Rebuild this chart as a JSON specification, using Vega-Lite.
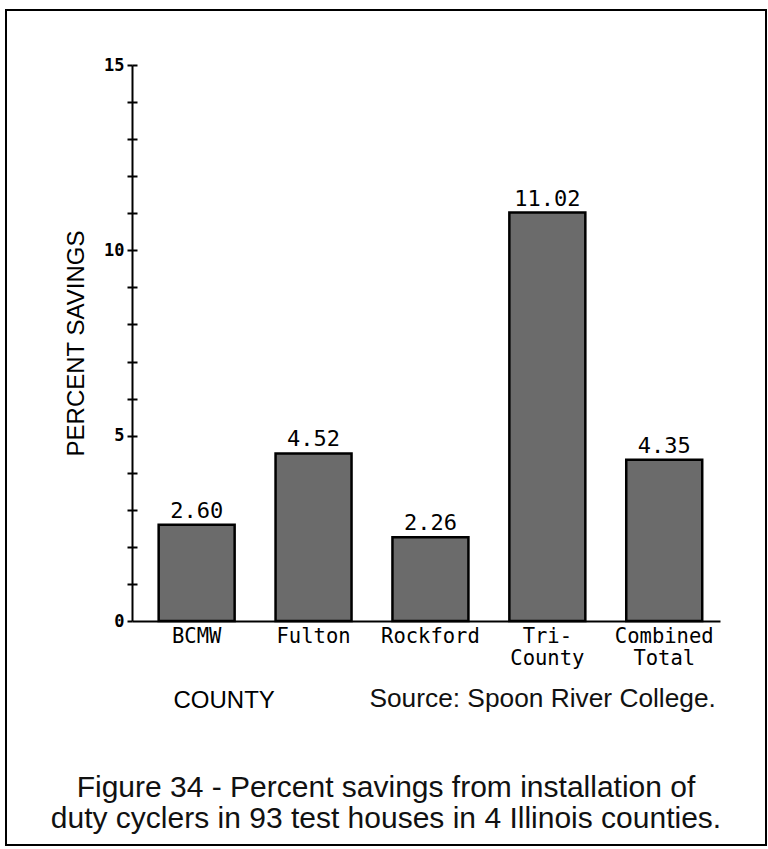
{
  "$schema": "https://vega.github.io/schema/vega-lite/v6.json",
  "autosize": "none",
  "width": 760,
  "height": 835,
  "padding": {"left": 6, "top": 10, "right": 2, "bottom": 4},
  "background": "white",
  "title": {
    "text": ["Figure 34 - Percent savings from installation of", "duty cyclers in 93 test houses in 4 Illinois counties."],
    "orient": "bottom",
    "anchor": "middle",
    "frame": "group",
    "offset": -48,
    "baseline": "alphabetic",
    "font": "Liberation Sans",
    "fontSize": 30,
    "fontWeight": "normal",
    "lineHeight": 31,
    "color": "#111111"
  },
  "config": {
    "view": {"stroke": "black", "strokeWidth": 2, "fill": "white"},
    "font": "DejaVu Sans Mono"
  },
  "data": {
    "values": [
      {"county": "BCMW", "savings": 2.60},
      {"county": "Fulton", "savings": 4.52},
      {"county": "Rockford", "savings": 2.26},
      {"county": "Tri-County", "savings": 11.02},
      {"county": "Combined Total", "savings": 4.35}
    ]
  },
  "layer": [
    {
      "mark": {"type": "bar", "fill": "#6b6b6b", "stroke": "black", "strokeWidth": 2.5},
      "encoding": {
        "x": {
          "field": "county",
          "type": "nominal",
          "sort": null,
          "scale": {"range": [126, 714], "paddingInner": 0.35, "paddingOuter": 0.19, "align": 0.6},
          "axis": {
            "orient": "bottom",
            "offset": -224,
            "domainColor": "black",
            "domainWidth": 2,
            "ticks": false,
            "grid": false,
            "labelAngle": 0,
            "labelFont": "DejaVu Sans Mono",
            "labelFontSize": 20.5,
            "labelColor": "black",
            "labelPadding": 5,
            "labelLineHeight": 22,
            "labelExpr": "datum.label == 'Tri-County' ? ['Tri-', 'County'] : split(datum.label, ' ')",
            "title": "COUNTY",
            "titleFont": "Liberation Sans",
            "titleFontSize": 24,
            "titleFontWeight": "normal",
            "titleColor": "black",
            "titleX": 167,
            "titleY": 86,
            "titleAlign": "left",
            "titleBaseline": "alphabetic"
          }
        },
        "y": {
          "field": "savings",
          "type": "quantitative",
          "scale": {"domain": [0, 15], "range": [611, 55], "nice": false, "zero": true},
          "axis": {
            "orient": "left",
            "offset": -126,
            "values": [0, 1, 2, 3, 4, 5, 6, 7, 8, 9, 10, 11, 12, 13, 14, 15],
            "labelExpr": "datum.value % 5 === 0 ? datum.label : ''",
            "labelOverlap": false,
            "domainColor": "black",
            "domainWidth": 2,
            "tickColor": "black",
            "tickWidth": 2,
            "tickSize": 5,
            "grid": false,
            "labelFont": "DejaVu Sans Mono",
            "labelFontWeight": "bold",
            "labelFontSize": 17,
            "labelColor": "black",
            "labelPadding": 3,
            "title": "PERCENT SAVINGS",
            "titleFont": "Liberation Sans",
            "titleFontSize": 24,
            "titleFontWeight": "normal",
            "titleColor": "black",
            "titleX": -56,
            "titleBaseline": "middle"
          }
        }
      }
    },
    {
      "mark": {"type": "text", "dy": -7, "baseline": "alphabetic", "font": "DejaVu Sans Mono", "fontSize": 22, "color": "black"},
      "encoding": {
        "x": {"field": "county", "type": "nominal", "sort": null},
        "y": {
          "field": "savings",
          "type": "quantitative",
          "axis": {
            "orient": "right",
            "offset": -634,
            "values": [1, 2, 3, 4, 5, 6, 7, 8, 9, 10, 11, 12, 13, 14, 15],
            "labels": false,
            "domain": false,
            "grid": false,
            "title": null,
            "tickColor": "black",
            "tickWidth": 2,
            "tickSize": 5
          }
        },
        "text": {"field": "savings", "type": "quantitative", "format": ".2f"}
      }
    },
    {
      "data": {"values": [{"note": "Source: Spoon River College."}]},
      "mark": {"type": "text", "align": "left", "baseline": "alphabetic", "dx": -61, "font": "Liberation Sans", "fontSize": 26.3, "color": "#111111"},
      "encoding": {
        "x": {"datum": "Rockford", "type": "nominal"},
        "y": {"datum": -2.32, "type": "quantitative", "axis": null},
        "text": {"field": "note"}
      }
    }
  ],
  "resolve": {"axis": {"y": "independent"}}
}
